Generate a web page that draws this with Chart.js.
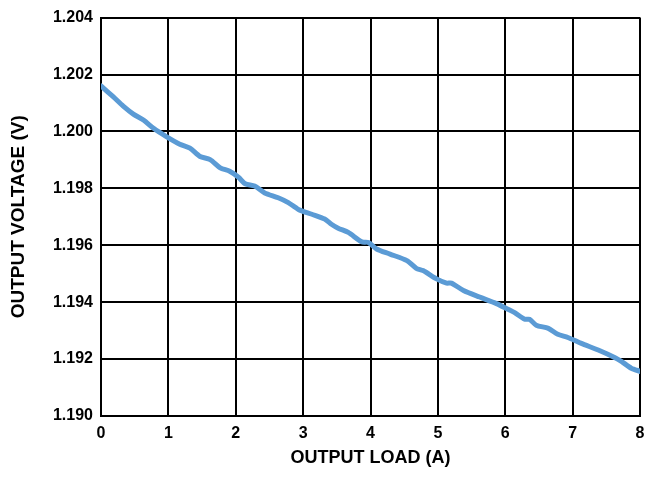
<!DOCTYPE html>
<html>
<head>
<meta charset="utf-8">
<script src="https://cdn.jsdelivr.net/npm/chart.js@4"></script>
<style>
  html, body { margin: 0; padding: 0; background: #fff; }
  canvas { display: block; }
</style>
</head>
<body>
<canvas id="loadChart" width="657" height="477"></canvas>
<script>
// output load (A)
const loadA = [
    0, 0.18, 0.33, 0.48, 0.63, 0.78, 0.97, 1.17, 1.32, 1.47, 1.62, 1.77, 1.91,
    2.04, 2.14, 2.28, 2.43, 2.63, 2.78, 2.93, 3.13, 3.32, 3.42, 3.52, 3.67, 3.87,
    3.97, 4.09, 4.29, 4.54, 4.68, 4.78, 4.98, 5.13, 5.2, 5.38, 5.62, 5.87, 6.04,
    6.14, 6.29, 6.36, 6.46, 6.64, 6.78, 6.93, 7.13, 7.38, 7.63, 7.73, 7.87, 8
];

// output voltage (V) at each load
const voltageV = [
    1.2016, 1.20122, 1.20089, 1.20061, 1.2004, 1.20011, 1.19982, 1.19955, 1.19941,
    1.19912, 1.19901, 1.19872, 1.1986, 1.19839, 1.19816, 1.19808, 1.19784, 1.19767,
    1.1975, 1.19726, 1.19709, 1.19692, 1.19674, 1.1966, 1.19645, 1.19612, 1.1961,
    1.19587, 1.19569, 1.19546, 1.19519, 1.19511, 1.19482, 1.19467, 1.19467, 1.19441,
    1.19418, 1.19395, 1.19375, 1.19363, 1.1934, 1.1934, 1.19319, 1.19308, 1.19287,
    1.19276, 1.19255, 1.19232, 1.19205, 1.19191, 1.19168, 1.19157
];

const xTicks = [0, 1, 2, 3, 4, 5, 6, 7, 8];
const yTicks = [1.190, 1.192, 1.194, 1.196, 1.198, 1.200, 1.202, 1.204];

const FONT = "'Liberation Sans', Arial, sans-serif";

const points = loadA.map((x, i) => ({ x, y: voltageV[i] }));

new Chart(document.getElementById("loadChart"), {
    type: "line",
    data: {
        datasets: [{
            data: points,
            borderColor: "#5b9bd5",
            borderWidth: 5,
            pointRadius: 0,
            tension: 0.25,
            borderCapStyle: "round",
            borderJoinStyle: "round",
            fill: false
        }]
    },
    options: {
        responsive: false,
        animation: false,
        devicePixelRatio: 1,
        layout: { padding: { top: 15, right: 17, left: 0, bottom: 0 } },
        plugins: {
            legend: { display: false },
            tooltip: { enabled: false }
        },
        scales: {
            x: {
                type: "linear",
                min: xTicks[0],
                max: xTicks[xTicks.length - 1],
                afterBuildTicks: s => { s.ticks = xTicks.map(v => ({ value: v })); },
                afterFit: s => { s.height = 61; },
                grid: { color: "#000", lineWidth: 2, drawTicks: false },
                border: { display: true, color: "#000", width: 2 },
                ticks: {
                    color: "#000",
                    padding: 8,
                    font: { family: FONT, size: 16, weight: "bold" },
                    callback: v => String(v)
                },
                title: {
                    display: true,
                    text: "OUTPUT LOAD (A)",
                    color: "#000",
                    padding: { top: 0, bottom: 8 },
                    font: { family: FONT, size: 18, weight: "bold" }
                }
            },
            y: {
                type: "linear",
                min: yTicks[0],
                max: yTicks[yTicks.length - 1],
                afterBuildTicks: s => { s.ticks = yTicks.map(v => ({ value: v })); },
                afterFit: s => { s.width = 101; },
                grid: { color: "#000", lineWidth: 2, drawTicks: false },
                border: { display: true, color: "#000", width: 2 },
                ticks: {
                    color: "#000",
                    padding: 8,
                    font: { family: FONT, size: 16, weight: "bold" },
                    callback: v => v.toFixed(3)
                },
                title: {
                    display: true,
                    text: "OUTPUT VOLTAGE (V)",
                    color: "#000",
                    padding: { top: 7, bottom: 0 },
                    font: { family: FONT, size: 19, weight: "bold" }
                }
            }
        }
    }
});
</script>
</body>
</html>
